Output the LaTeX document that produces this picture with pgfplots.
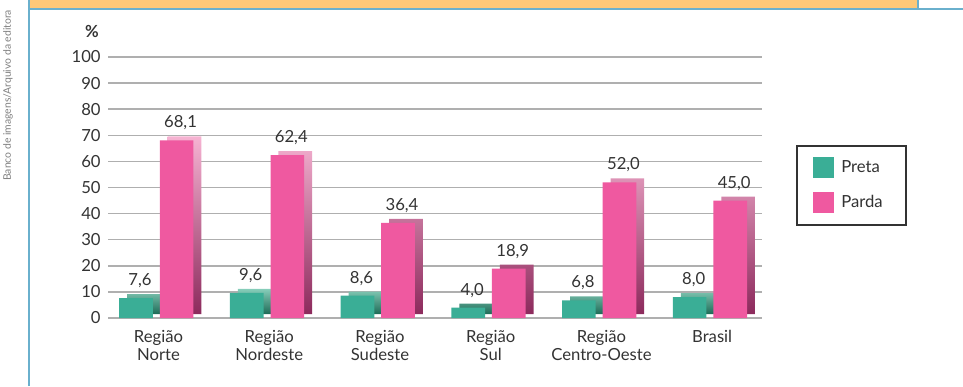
\documentclass[border=0pt]{standalone}
\usepackage{fontspec}
\setmainfont{Lato}
\usepackage{pgfplots}
\pgfplotsset{compat=1.18}
\definecolor{pretaF}{HTML}{3AAE96}
\definecolor{pretaT}{HTML}{86CDB9}
\definecolor{pretaS}{HTML}{1D6A56}
\definecolor{pardaF}{HTML}{EF59A0}
\definecolor{pardaT}{HTML}{F6B3D2}
\definecolor{pardaS}{HTML}{8C2A5C}
\definecolor{txt}{HTML}{333333}
\definecolor{gridc}{HTML}{AFAFAF}
\definecolor{bandO}{HTML}{FDC878}
\definecolor{frameB}{HTML}{6AB0CD}
\begin{document}
\begin{tikzpicture}
\path[use as bounding box] (0,0) rectangle (722.25pt,289.5pt);
% frame decoration
\fill[bandO] (22.5pt,283.5pt) rectangle (688.5pt,289.5pt);
\draw[frameB, line width=1.5pt] (22.5pt,282.6pt) -- (722.25pt,282.6pt);
\draw[frameB, line width=1.5pt] (688.5pt,282.6pt) -- (688.5pt,289.5pt);
\draw[frameB, line width=1.6pt] (21.9pt,0pt) -- (21.9pt,289.5pt);
\node[rotate=90, text=gray, font=\fontsize{7.8}{9}\selectfont] at (6pt,218pt) {Banco de imagens/Arquivo da editora};
\begin{axis}[
  at={(81pt,51pt)}, anchor=south west,
  scale only axis, width=490.5pt, height=195.75pt,
  /pgf/number format/assume math mode=true,
  xmin=-0.456, xmax=5.45, ymin=0, ymax=100,
  axis lines=none, clip=false,
  ymajorgrids, major grid style={gridc, line width=1.1pt},
  ytick={0,10,...,100},
  xtick={0,1,2,3,4,5},
  xticklabels={{Região\\Norte},{Região\\Nordeste},{Região\\Sudeste},{Região\\Sul},{Região\\Centro-Oeste},{Brasil}},
  major tick length=0pt,
  yticklabel style={font=\fontsize{12.5}{14}\selectfont, text=txt, xshift=-2pt},
  xticklabel style={font=\fontsize{12.5}{13}\selectfont, text=txt, align=center, anchor=north, yshift=-6pt},
  hide axis=false, axis line style={draw=none},
  ylabel={\textbf{\%}},
  every axis y label/.style={at={(rel axis cs:-0.0245,1.096)}, anchor=center, font=\fontsize{12.5}{14}\selectfont, text=txt},
  ybar, bar width=0.303,
  legend style={at={(rel axis cs:1.052,0.663)}, anchor=north west, draw=black!80, line width=1.4pt,
    inner xsep=12pt, inner ysep=8.5pt, row sep=10.5pt, font=\fontsize{12.5}{14}\selectfont, text=txt,
    nodes={inner xsep=5.5pt}},
  legend cell align=left,
  nodes near coords style={font=\fontsize{12.5}{14}\selectfont, text=txt},
]
% Preta: side/top
\addplot[forget plot, draw=none, bar shift=-0.203+0.072, yshift=3pt, top color=pretaT, bottom color=pretaS]
  coordinates {(0,7.6) (1,9.6) (2,8.6) (3,4.0) (4,6.8) (5,8.0)};
% Preta: front
\addplot[draw=none, fill=pretaF, bar shift=-0.203,
  legend image code/.code={\fill[pretaF] (0pt,-7.9pt) rectangle (15.75pt,7.9pt);},
  nodes near coords={\pgfmathprintnumber[fixed, fixed zerofill, precision=1, use comma]{\pgfplotspointmeta}},
  nodes near coords style={anchor=south, xshift=3pt, yshift=4pt}]
  coordinates {(0,7.6) (1,9.6) (2,8.6) (3,4.0) (4,6.8) (5,8.0)};
\addlegendentry{Preta}
% Parda: side/top
\addplot[forget plot, draw=none, bar shift=0.163+0.072, yshift=3pt, top color=pardaT, bottom color=pardaS]
  coordinates {(0,68.1) (1,62.4) (2,36.4) (3,18.9) (4,52.0) (5,45.0)};
% Parda: front
\addplot[draw=none, fill=pardaF, bar shift=0.163,
  legend image code/.code={\fill[pardaF] (0pt,-7.9pt) rectangle (15.75pt,7.9pt);},
  nodes near coords={\pgfmathprintnumber[fixed, fixed zerofill, precision=1, use comma]{\pgfplotspointmeta}},
  nodes near coords style={anchor=south, xshift=3pt, yshift=4pt}]
  coordinates {(0,68.1) (1,62.4) (2,36.4) (3,18.9) (4,52.0) (5,45.0)};
\addlegendentry{Parda}
\end{axis}
\end{tikzpicture}
\end{document}
